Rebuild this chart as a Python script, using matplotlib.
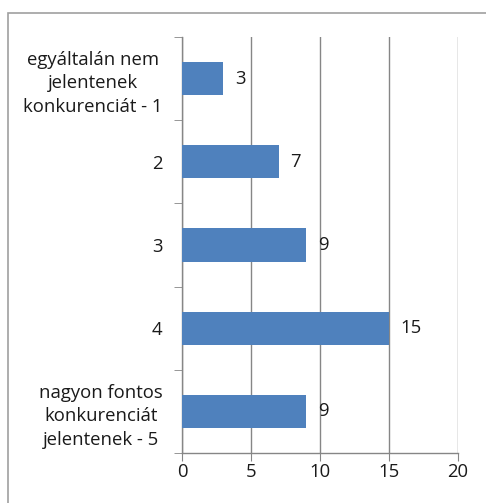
import matplotlib
matplotlib.use("Agg")
import matplotlib.pyplot as plt
from matplotlib.patches import Rectangle
import numpy as np

categories = ["egyáltalán nem\njelentenek\nkonkurenciát - 1", "2", "3", "4",
              "nagyon fontos\nkonkurenciát\njelentenek - 5"]
values = [3, 7, 9, 15, 9]
xticks = [0, 5, 10, 15, 20]

plt.rcParams['font.family'] = ['Open Sans', 'DejaVu Sans']
FS = 13.3
gray = '#868686'
tc = '#1a1a1a'

fig = plt.figure(figsize=(4.86, 5.03), dpi=100)
ax = fig.add_axes([182/486, 1-453/503, (458-182)/486, (453-37)/503])

y = np.arange(len(categories))
ax.barh(y, values, height=0.4, color='#4F81BD', zorder=3)
for yi, v in zip(y, values):
    ax.annotate(str(v), (v, yi), xytext=(8.5, 0), textcoords='offset points',
                va='center', ha='left', fontsize=FS, color=tc)

ax.set_xlim(0, 20)
ax.set_ylim(len(categories)-0.5, -0.5)
ax.set_xticks(xticks)
ax.set_xticklabels([str(t) for t in xticks], fontsize=FS, color=tc)
ax.set_yticks(y)
ax.set_yticklabels(categories, fontsize=FS, multialignment='center', color=tc,
                   linespacing=1.4)
ax.set_yticks(np.arange(len(categories)+1)-0.5, minor=True)
ax.tick_params(axis='y', which='major', length=0, pad=14)
ax.tick_params(axis='y', which='minor', length=6, color=gray, direction='out')
ax.tick_params(axis='x', which='major', length=6, color=gray, direction='out', pad=1)
ax.grid(axis='x', color=gray, linewidth=1, zorder=0)
for s in ['top', 'right']:
    ax.spines[s].set_visible(False)
for s in ['left', 'bottom']:
    ax.spines[s].set_color(gray)
    ax.spines[s].set_linewidth(1)

fig.patches.append(Rectangle((8/486, -0.1), 1.2, 1-13/503+0.1, transform=fig.transFigure,
                             fill=False, edgecolor='#a0a0a0', linewidth=1.2))
fig.savefig('out.png', dpi=100)
